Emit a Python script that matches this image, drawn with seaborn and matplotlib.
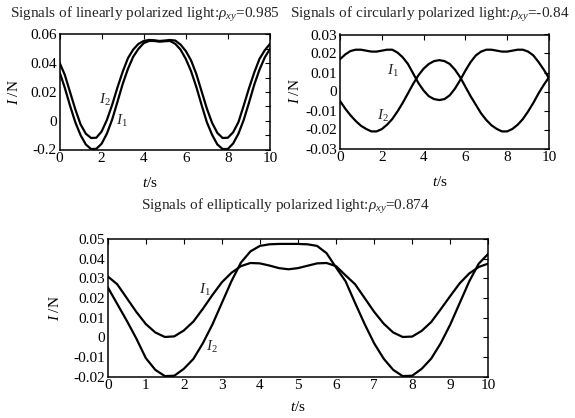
#!/usr/bin/env python3
# -*- coding: utf-8 -*-
"""
Signals I1 / I2 for linear, circular and elliptical polarized light
"""

import matplotlib
matplotlib.use('Agg')
import matplotlib.pyplot as plt
import seaborn as sns
import pandas as pd

# time axis (s)
t = [0, 0.25, 0.5, 0.75, 1.0, 1.25, 1.5, 1.75, 2.0, 2.25, 2.5, 2.75, 3.0, 3.25,
     3.5, 3.75, 4.0, 4.25, 4.5, 4.75, 5.0, 5.25, 5.5, 5.75, 6.0, 6.25, 6.5, 6.75,
     7.0, 7.25, 7.5, 7.75, 8.0, 8.25, 8.5, 8.75, 9.0, 9.25, 9.5, 9.75, 10.0]

# linearly polarized light
lin_i1 = [0.034, 0.023, 0.0105, -0.001, -0.010, -0.0165, -0.0197, -0.0195, -0.016,
          -0.009, 0.0008, 0.013, 0.0255, 0.036, 0.0445, 0.050, 0.054, 0.0555, 0.0555,
          0.055, 0.0553, 0.0555, 0.0535, 0.0495, 0.043, 0.0345, 0.0235, 0.011, -0.001,
          -0.0098, -0.0165, -0.0197, -0.0196, -0.0158, -0.009, 0.0005, 0.0125, 0.025,
          0.0355, 0.044, 0.050]
lin_i2 = [0.0405, 0.032, 0.020, 0.008, -0.0025, -0.009, -0.012, -0.0118, -0.0075,
          0.0005, 0.011, 0.023, 0.034, 0.0435, 0.0495, 0.0535, 0.0555, 0.0562, 0.056,
          0.0555, 0.0558, 0.0562, 0.0558, 0.053, 0.0485, 0.042, 0.0325, 0.0205, 0.0085,
          -0.0015, -0.0085, -0.012, -0.0118, -0.008, -0.001, 0.0105, 0.0225, 0.0335,
          0.043, 0.049, 0.0535]

# circularly polarized light
cir_i1 = [0.017, 0.0195, 0.0213, 0.022, 0.022, 0.0215, 0.021, 0.021, 0.0215, 0.022,
          0.022, 0.0205, 0.018, 0.0145, 0.0095, 0.0045, 0.0005, -0.0025, -0.004,
          -0.0045, -0.004, -0.002, 0.0015, 0.006, 0.011, 0.0155, 0.019, 0.021, 0.022,
          0.022, 0.0215, 0.021, 0.021, 0.0215, 0.022, 0.022, 0.021, 0.019, 0.0155,
          0.0115, 0.007]
cir_i2 = [-0.005, -0.009, -0.0125, -0.0155, -0.018, -0.0197, -0.021, -0.021, -0.0198,
          -0.0175, -0.0145, -0.0105, -0.006, -0.001, 0.004, 0.0085, 0.012, 0.0145,
          0.016, 0.0165, 0.016, 0.0145, 0.0115, 0.0075, 0.0025, -0.0025, -0.007,
          -0.0115, -0.015, -0.0178, -0.0197, -0.021, -0.021, -0.0197, -0.0175, -0.0145,
          -0.0105, -0.006, -0.001, 0.0035, 0.0075]

# elliptically polarized light
ell_i1 = [0.031, 0.027, 0.020, 0.013, 0.0068, 0.0025, 0.0002, 0.0005, 0.0035, 0.008,
          0.0145, 0.0215, 0.028, 0.0328, 0.0362, 0.0378, 0.0376, 0.0365, 0.0352, 0.0346,
          0.0352, 0.0364, 0.0376, 0.0378, 0.0362, 0.0315, 0.027, 0.020, 0.013, 0.007,
          0.0025, 0.0002, 0.0004, 0.0033, 0.0078, 0.0143, 0.021, 0.0275, 0.0325, 0.0358,
          0.0375]
ell_i2 = [0.0255, 0.017, 0.0085, -0.0005, -0.0105, -0.0165, -0.0197, -0.0195, -0.016,
          -0.011, -0.003, 0.0065, 0.0175, 0.0285, 0.038, 0.0437, 0.0465, 0.0473, 0.0475,
          0.0475, 0.0475, 0.0473, 0.0465, 0.0428, 0.0355, 0.0285, 0.0175, 0.0068, -0.003,
          -0.0108, -0.0165, -0.0197, -0.0195, -0.016, -0.0108, -0.003, 0.0065, 0.0175,
          0.0285, 0.0375, 0.0425]

titles = [r'Signals of linearly polarized light:$\rho_{xy}$=0.985',
          r'Signals of circularly polarized light:$\rho_{xy}$=-0.84',
          r'Signals of elliptically polarized light:$\rho_{xy}$=0.874']

sns.set_theme(style='white')
plt.rcParams['font.family'] = ['Liberation Serif', 'DejaVu Serif']
plt.rcParams['mathtext.fontset'] = 'custom'
plt.rcParams['mathtext.rm'] = 'Liberation Serif'
plt.rcParams['mathtext.it'] = 'Liberation Serif:italic'
plt.rcParams['axes.unicode_minus'] = False

FS = 11
fig = plt.figure(figsize=(5.75, 4.18), dpi=100)
W, H = 575.0, 418.0


def make_ax(x0, x1, y0, y1):
    # pixel box -> figure fraction
    return fig.add_axes([x0 / W, 1 - y1 / H, (x1 - x0) / W, (y1 - y0) / H])


def style_ax(ax, xticks, yticks, ylabels, yminor=None):
    ax.set_xlim(0, 10)
    ax.set_xticks(xticks)
    ax.set_xticklabels([str(v) for v in xticks])
    ax.set_yticks(yticks)
    ax.set_yticklabels(ylabels)
    if yminor is not None:
        ax.set_yticks(yminor, minor=True)
    for s in ax.spines.values():
        s.set_color('black')
        s.set_linewidth(1.1)
    ax.tick_params(which='both', direction='in', top=True, right=True, length=3.5,
                   width=0.8, color='black', labelsize=FS, pad=2, labelcolor='black')
    ax.set_xlabel(r'$t$/s', fontsize=FS, color='black')
    ax.set_ylabel(r'$I$ /N', fontsize=FS, color='black')
    ax.grid(False)


def draw(ax, y1, y2):
    df = pd.DataFrame({'t': t, 'I1': y1, 'I2': y2})
    sns.lineplot(data=df, x='t', y='I1', ax=ax, color='black', lw=1.6)
    sns.lineplot(data=df, x='t', y='I2', ax=ax, color='black', lw=1.6)


# linearly polarized
ax1 = make_ax(59.5, 270, 34.5, 149.5)
draw(ax1, lin_i1, lin_i2)
style_ax(ax1, [0, 2, 4, 6, 8, 10], [-0.02, 0, 0.02, 0.04, 0.06],
         ['-0.2', '0', '0.02', '0.04', '0.06'],
         yminor=[-0.01, 0.01, 0.03, 0.05])
ax1.set_ylim(-0.02, 0.06)
ax1.text(2.16, 0.0148, r'$I_2$', ha='center', va='center', fontsize=FS)
ax1.text(2.95, 0.0, r'$I_1$', ha='center', va='center', fontsize=FS)
ax1.xaxis.set_label_coords(0.43, -0.23)
ax1.yaxis.set_label_coords(-0.185, 0.5)

# circularly polarized
ax2 = make_ax(340, 549, 34.5, 148.5)
draw(ax2, cir_i1, cir_i2)
style_ax(ax2, [0, 2, 4, 6, 8, 10], [-0.03, -0.02, -0.01, 0, 0.01, 0.02, 0.03],
         ['-0.03', '-0.02', '-0.01', '0', '0.01', '0.02', '0.03'])
ax2.set_ylim(-0.03, 0.03)
ax2.text(2.55, 0.011, r'$I_1$', ha='center', va='center', fontsize=FS)
ax2.text(2.07, -0.0131, r'$I_2$', ha='center', va='center', fontsize=FS)
ax2.xaxis.set_label_coords(0.48, -0.23)
ax2.yaxis.set_label_coords(-0.18, 0.5)

# elliptically polarized
ax3 = make_ax(107.7, 488.3, 239, 376.7)
draw(ax3, ell_i1, ell_i2)
style_ax(ax3, list(range(11)),
         [-0.02, -0.01, 0, 0.01, 0.02, 0.03, 0.04, 0.05],
         ['-0.02', '-0.01', '0', '0.01', '0.02', '0.03', '0.04', '0.05'])
ax3.set_ylim(-0.02, 0.05)
ax3.text(2.56, 0.0241, r'$I_1$', ha='center', va='center', fontsize=FS)
ax3.text(2.73, -0.0048, r'$I_2$', ha='center', va='center', fontsize=FS)
ax3.xaxis.set_label_coords(0.5, -0.17)
ax3.yaxis.set_label_coords(-0.12, 0.5)

fig.text(145 / W, 1 - 15 / H, titles[0], ha='center', va='center', fontsize=FS)
fig.text(430 / W, 1 - 15 / H, titles[1], ha='center', va='center', fontsize=FS)
fig.text(285 / W, 1 - 206 / H, titles[2], ha='center', va='center', fontsize=FS)

fig.savefig('out.png', dpi=100)
plt.close(fig)
